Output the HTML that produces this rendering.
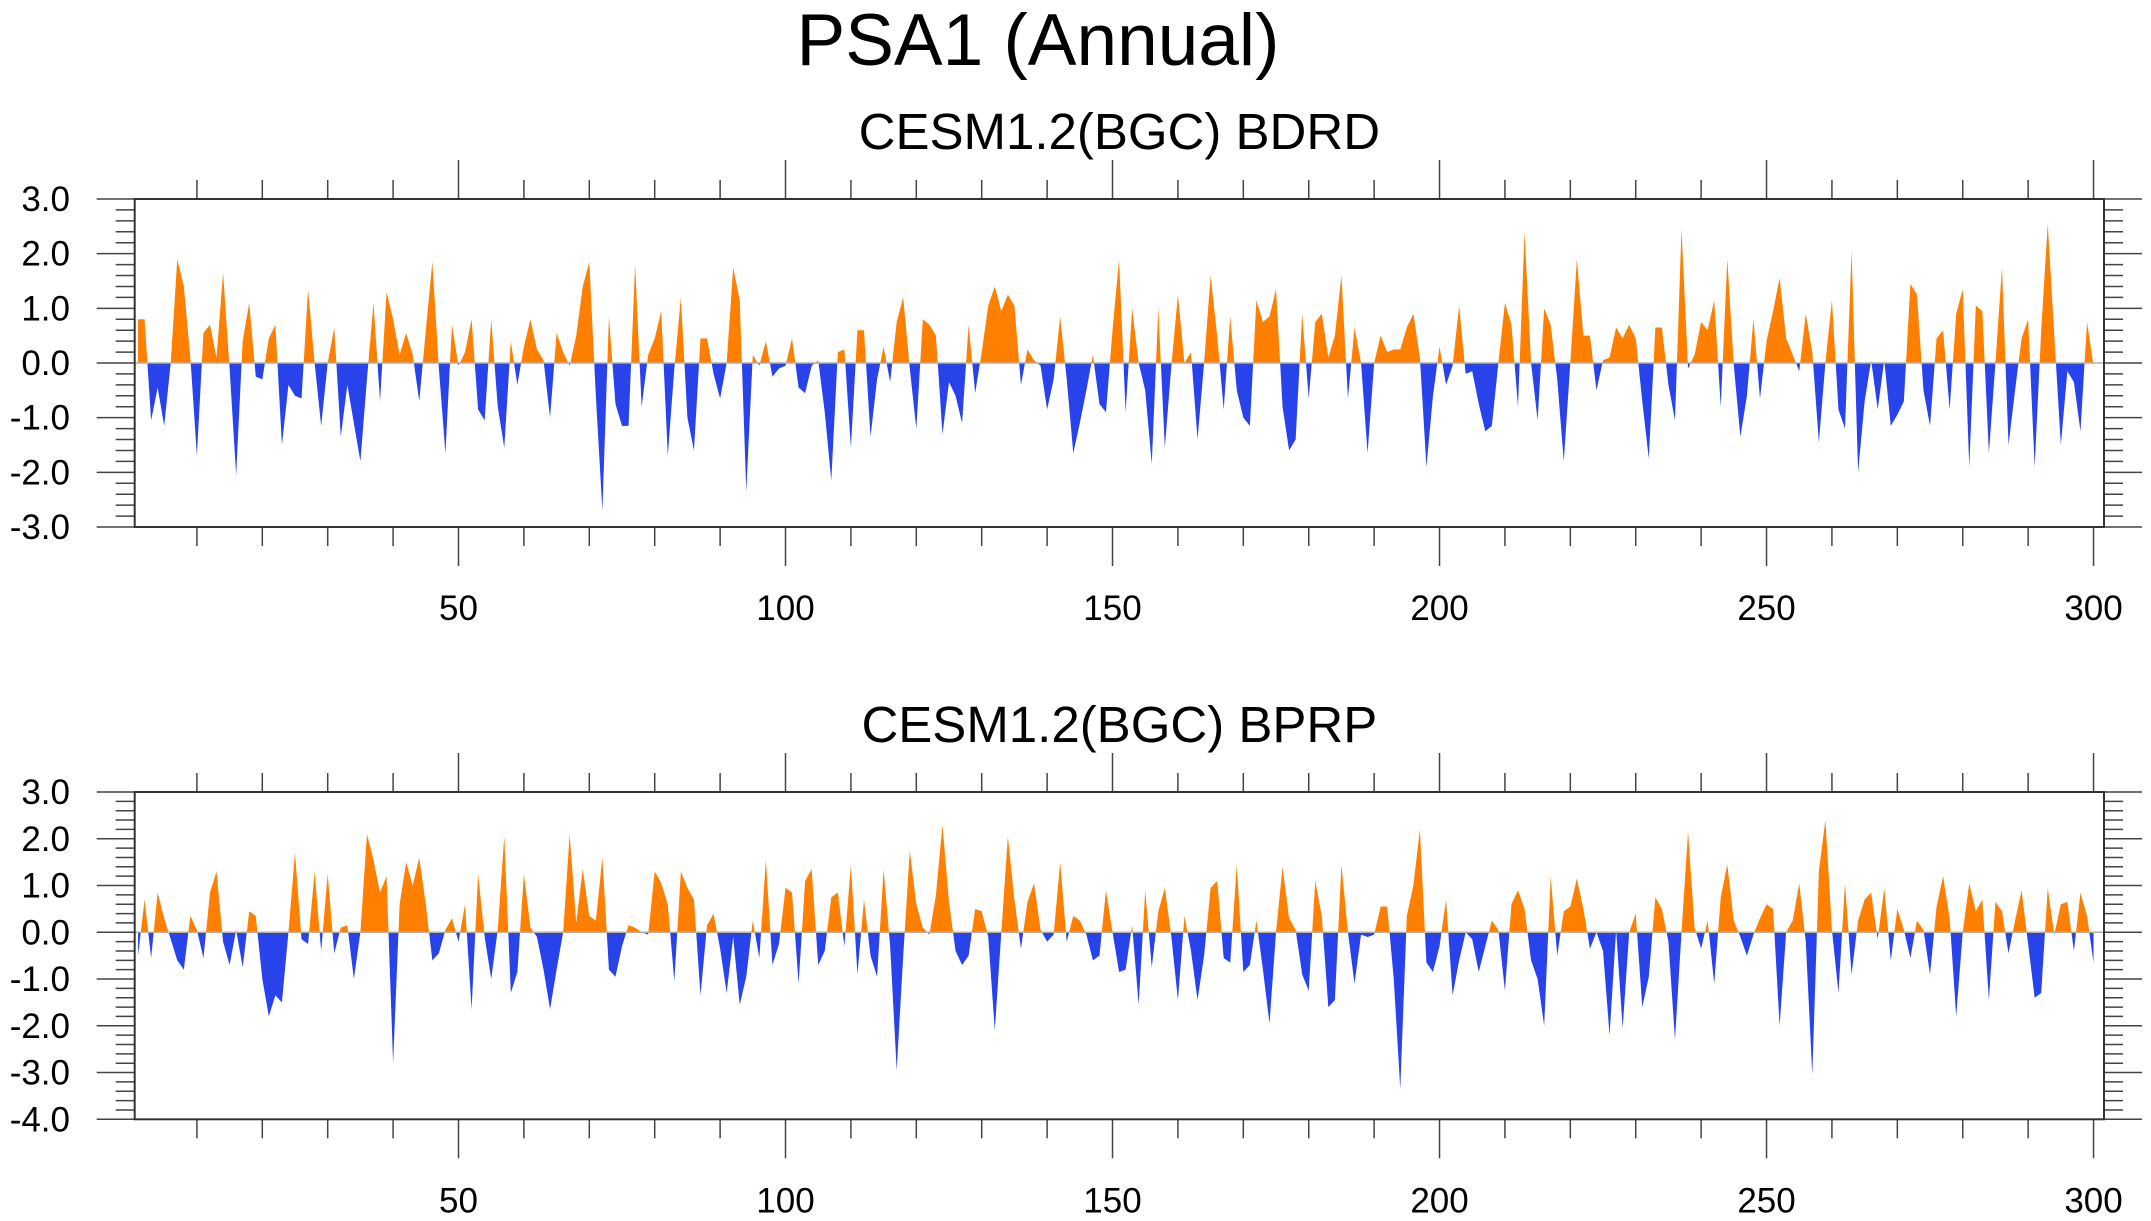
<!DOCTYPE html>
<html><head><meta charset="utf-8"><title>PSA1 (Annual)</title>
<style>html,body{margin:0;padding:0;background:#fff}svg{display:block}text{font-family:"Liberation Sans",Arial,sans-serif;fill:#000}</style>
</head><body>
<svg id="chart" width="2151" height="1221" viewBox="0 0 2151 1221" xmlns="http://www.w3.org/2000/svg">
<text x="1038" y="65" font-size="73" text-anchor="middle">PSA1 (Annual)</text>
</svg>
<script>
const bdrdValues = [0.8,0.8,-1.05,-0.45,-1.15,0.0,1.9,1.4,0.1,-1.7,
0.55,0.7,0.1,1.65,-0.1,-2.05,0.4,1.1,-0.25,-0.3,
0.45,0.7,-1.5,-0.4,-0.6,-0.65,1.35,0.0,-1.15,0.0,
0.65,-1.35,-0.4,-1.1,-1.8,-0.3,1.1,-0.7,1.3,0.8,
0.15,0.55,0.15,-0.7,0.6,1.85,-0.1,-1.65,0.7,-0.05,
0.2,0.8,-0.85,-1.05,0.8,-0.8,-1.55,0.4,-0.4,0.3,
0.8,0.25,0.05,-1.0,0.55,0.2,-0.05,0.5,1.4,1.85,
-0.6,-2.7,0.85,-0.75,-1.15,-1.15,1.8,-0.8,0.15,0.45,
0.95,-1.7,-0.1,1.2,-1.0,-1.6,0.45,0.45,-0.2,-0.65,
0.0,1.75,1.15,-2.35,0.15,-0.05,0.4,-0.25,-0.1,-0.05,
0.45,-0.45,-0.55,-0.05,0.05,-0.9,-2.15,0.2,0.25,-1.55,
0.6,0.6,-1.35,-0.3,0.3,-0.35,0.75,1.2,-0.1,-1.2,
0.8,0.7,0.5,-1.3,-0.35,-0.6,-1.1,0.7,-0.55,0.2,
1.05,1.4,0.95,1.25,1.05,-0.4,0.25,0.05,-0.05,-0.85,
-0.3,0.85,-0.3,-1.65,-1.1,-0.5,0.15,-0.75,-0.9,0.6,
1.9,-0.9,1.0,0.0,-0.5,-1.85,1.0,-1.55,-0.05,1.25,
0.0,0.2,-1.4,0.0,1.6,0.5,-0.85,0.85,-0.5,-1.0,
-1.15,1.15,0.75,0.85,1.35,-0.8,-1.6,-1.4,0.9,-0.65,
0.75,0.9,0.1,0.5,1.6,-0.65,0.65,0.0,-1.65,0.0,
0.5,0.2,0.25,0.25,0.65,0.9,0.1,-1.9,-0.6,0.3,
-0.4,-0.05,1.05,-0.2,-0.15,-0.75,-1.25,-1.15,0.0,1.1,
0.7,-0.8,2.4,0.0,-1.05,1.0,0.7,-0.3,-1.8,0.0,
1.9,0.5,0.5,-0.5,0.05,0.1,0.65,0.45,0.7,0.45,
-0.7,-1.75,0.65,0.65,-0.4,-1.05,2.45,-0.1,0.15,0.75,
0.6,1.15,-0.8,1.9,-0.05,-1.35,-0.6,0.8,-0.65,0.4,
0.95,1.55,0.45,0.15,-0.15,0.9,0.2,-1.45,0.0,1.15,
-0.85,-1.2,2.05,-2.0,-0.7,0.05,-0.85,0.05,-1.15,-0.95,
-0.7,1.45,1.25,-0.5,-1.15,0.45,0.6,-0.85,0.9,1.35,
-1.9,1.05,0.95,-1.65,0.0,1.75,-1.5,-0.5,0.45,0.8,
-1.9,0.6,2.55,0.5,-1.5,-0.15,-0.35,-1.25,0.75,-0.05];
const bprpValues = [-0.5,0.7,-0.55,0.85,0.3,-0.15,-0.6,-0.8,0.35,0.05,
-0.55,0.85,1.3,-0.2,-0.7,0.05,-0.75,0.45,0.35,-1.0,
-1.8,-1.35,-1.5,0.0,1.7,-0.15,-0.25,1.3,-0.4,1.25,
-0.45,0.1,0.15,-1.0,0.0,2.1,1.55,0.85,1.2,-2.8,
0.6,1.5,1.0,1.6,0.6,-0.6,-0.45,0.05,0.3,-0.2,
0.6,-1.65,1.25,-0.1,-1.0,0.05,2.05,-1.3,-0.85,1.25,
0.1,-0.1,-0.8,-1.65,-0.8,0.0,2.1,0.2,1.35,0.35,
0.25,1.6,-0.8,-0.95,-0.3,0.15,0.1,0.0,-0.05,1.3,
1.05,0.6,-1.05,1.3,0.95,0.7,-1.35,0.15,0.4,-0.35,
-1.3,-0.1,-1.55,-0.95,0.25,-0.55,1.55,-0.7,-0.25,0.95,
0.85,-1.1,1.1,1.35,-0.7,-0.4,0.75,0.85,-0.3,1.45,
-0.9,0.7,-0.5,-0.95,1.35,-0.3,-2.95,-0.5,1.75,0.6,
0.1,-0.05,0.8,2.3,0.65,-0.4,-0.7,-0.5,0.5,0.45,
-0.1,-2.1,0.0,2.05,0.7,-0.35,0.65,1.05,0.05,-0.2,
-0.05,1.5,-0.2,0.35,0.25,-0.05,-0.6,-0.5,0.9,0.0,
-0.85,-0.8,0.15,-1.55,0.9,-0.75,0.45,0.95,-0.1,-1.45,
0.35,-0.4,-1.45,-0.5,0.95,1.1,-0.55,-0.65,1.45,-0.85,
-0.7,0.25,-0.8,-1.95,0.0,1.4,0.3,0.05,-0.9,-1.25,
1.1,0.35,-1.6,-1.45,1.45,0.0,-1.1,-0.05,-0.1,-0.05,
0.55,0.55,-1.0,-3.35,0.35,1.0,2.2,-0.65,-0.85,-0.3,
0.7,-1.35,-0.6,0.0,-0.15,-0.85,-0.3,0.25,0.05,-1.25,
0.6,0.9,0.5,-0.6,-1.0,-2.0,1.2,-0.5,0.45,0.55,
1.15,0.5,-0.35,0.0,-0.4,-2.2,0.05,-2.05,0.0,0.4,
-1.6,-0.95,0.75,0.5,-0.2,-2.3,0.0,2.15,0.1,-0.35,
0.25,-1.1,0.75,1.45,0.25,-0.1,-0.5,-0.05,0.3,0.6,
0.5,-2.0,0.0,0.25,1.05,-0.2,-3.05,1.3,2.4,0.05,
-1.3,1.05,-0.9,0.25,0.7,0.85,-0.15,0.95,-0.6,0.5,
0.05,-0.55,0.25,0.05,-0.9,0.55,1.2,0.3,-1.8,0.0,
1.05,0.45,0.7,-1.45,0.65,0.45,-0.45,0.25,0.9,-0.25,
-1.4,-1.3,0.95,-0.05,0.6,0.65,-0.4,0.85,0.35,-0.65];
const xTickLabels = [50,100,150,200,250,300];
const panel1YTicks = [3,2,1,0,-1,-2,-3];
const panel2YTicks = [3,2,1,0,-1,-2,-3,-4];
const panelTitles = ["CESM1.2(BGC) BDRD","CESM1.2(BGC) BPRP"];

const NS = "http://www.w3.org/2000/svg";
const svg = document.getElementById('chart');
const X0 = 134.7, X1 = 2104, XMIN = 0.49, XMAX = 301.6;
function xs(v){ return X0 + (v - XMIN) / (XMAX - XMIN) * (X1 - X0); }
function mk(tag, attrs, parent){
  const e = document.createElementNS(NS, tag);
  for (const k in attrs) e.setAttribute(k, attrs[k]);
  (parent || svg).appendChild(e);
  return e;
}

function drawPanel(idx, values, yTicks, top, bottom, ymin, ymax, title){
  const ys = v => top + (ymax - v) / (ymax - ymin) * (bottom - top);
  const g = mk('g', {});
  
  
  const t = mk('text', {x: (X0 + X1) / 2, y: top - 50, 'font-size': 51, 'text-anchor': 'middle'}, g);
  t.textContent = title;
  
  

  const y0 = ys(0);
  const defs = mk('defs', {}, g);
  const cpA = mk('clipPath', {id: 'above' + idx}, defs);
  mk('rect', {x: X0, y: top, width: X1 - X0, height: y0 - top}, cpA);
  const cpB = mk('clipPath', {id: 'below' + idx}, defs);
  mk('rect', {x: X0, y: y0, width: X1 - X0, height: bottom - y0}, cpB);

  let d = 'M' + xs(1).toFixed(2) + ',' + y0.toFixed(2);
  values.forEach((v, i) => { d += 'L' + xs(i + 1).toFixed(2) + ',' + ys(v).toFixed(2); });
  d += 'L' + xs(values.length).toFixed(2) + ',' + y0.toFixed(2) + 'Z';
  const pa = mk('path', {d: d, fill: '#ff8000', 'clip-path': 'url(#above' + idx + ')'}, g);
  
  
  const pb = mk('path', {d: d, fill: '#2843ea', 'clip-path': 'url(#below' + idx + ')'}, g);
  
  
  const zl = mk('line', {x1: X0, x2: X1, y1: y0, y2: y0, stroke: '#b0b0b0', 'stroke-width': 1.5}, g);
  
  

  const tk = mk('g', {stroke: '#444', 'stroke-width': 1.5}, g);
  for (let v = 10; v <= 300; v += 10) {
    const major = v % 50 === 0;
    const L = major ? 39 : 19;
    const x = xs(v);
    mk('line', {x1: x, x2: x, y1: bottom, y2: bottom + L}, tk);
    mk('line', {x1: x, x2: x, y1: top, y2: top - L}, tk);
  }
  for (let k = Math.round(ymin * 5); k <= Math.round(ymax * 5); k++) {
    const v = k / 5, y = ys(v);
    const major = k % 5 === 0;
    const L = major ? 38 : 19;
    mk('line', {x1: X0 - L, x2: X0, y1: y, y2: y}, tk);
    mk('line', {x1: X1, x2: X1 + L, y1: y, y2: y}, tk);
  }
  const fr = mk('rect', {x: X0, y: top, width: X1 - X0, height: bottom - top, fill: 'none', stroke: '#333', 'stroke-width': 2}, g);
  
  

  yTicks.forEach(v => {
    const tl = mk('text', {x: 70, y: ys(v) + 12, 'font-size': 35, 'text-anchor': 'end'}, g);
    tl.textContent = v.toFixed(1);
    
    
  });
  xTickLabels.forEach(v => {
    const tl = mk('text', {x: xs(v), y: bottom + 93, 'font-size': 35, 'text-anchor': 'middle'}, g);
    tl.textContent = String(v);
    
    
  });
}

drawPanel(0, bdrdValues, panel1YTicks, 199, 527, -3, 3, panelTitles[0]);
drawPanel(1, bprpValues, panel2YTicks, 792, 1119.3, -4, 3, panelTitles[1]);
</script>
</body></html>
